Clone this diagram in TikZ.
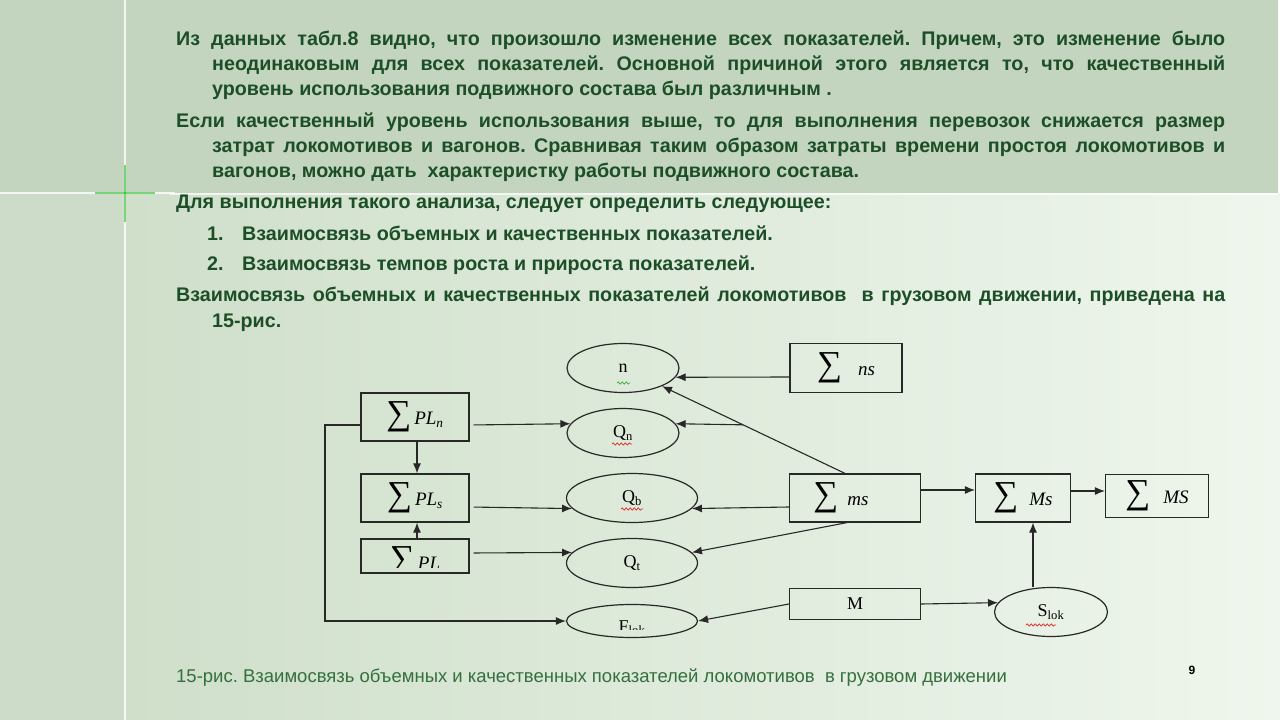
\documentclass[tikz,border=0pt]{standalone}
\usepackage{fontspec}
\setmainfont{Liberation Sans}
\newfontfamily\tnr{Liberation Serif}
\usetikzlibrary{positioning,arrows.meta,shapes.geometric,decorations.pathmorphing}
\definecolor{bandsage}{RGB}{195,213,191}
\definecolor{stripsage}{RGB}{204,220,200}
\definecolor{paleleft}{RGB}{207,223,202}
\definecolor{paleright}{RGB}{239,246,237}
\definecolor{txtgreen}{RGB}{28,78,40}
\definecolor{capgreen}{RGB}{52,112,62}
\definecolor{linedark}{RGB}{40,40,40}
\definecolor{spellred}{RGB}{225,40,40}
\definecolor{spellgreen}{RGB}{60,170,60}

\frenchspacing
\newcommand{\jline}[2]{\hbox to #1{#2}}
\newcommand{\sumof}[2][12pt]{{\tnr\fontsize{35}{35}\selectfont ∑}\hspace{#1}{\tnr\itshape\fontsize{19}{19}\selectfont #2}}

\begin{document}
\begin{tikzpicture}[x=1pt,y=-1pt,
  para/.style={anchor=base west, inner sep=0pt, font=\fontsize{19.7}{24}\selectfont\bfseries, text=txtgreen},
  box/.style={draw=linedark, line width=1.2pt, inner sep=0pt},
  oval/.style={ellipse, draw=linedark, line width=1.2pt, inner sep=0pt, font=\tnr\fontsize{18}{18}\selectfont},
  arr/.style={-{Latex[length=10pt,width=8pt]}, line width=1.1pt, linedark},
  squig/.style={decorate, decoration={snake, amplitude=1.1pt, segment length=4pt}, line width=0.7pt}
]
\useasboundingbox (0,0) rectangle (1280,720);

% slide background
\shade[left color=paleleft, right color=paleright] (123,193) rectangle (1280,720);
\fill[stripsage] (0,193) rectangle (123,720);
\fill[bandsage] (0,0) rectangle (1278,193);
\draw[white, opacity=0.7, line width=1.5pt] (170,194) -- (1278,194);
\draw[white, opacity=0.8, line width=1.2pt] (125,0) -- (125,720);
\draw[white, opacity=0.8, line width=1.2pt] (0,193) -- (175,193);
\draw[green!70!black, opacity=0.5, line width=1.5pt] (125,165) -- (125,222);
\draw[green!70!black, opacity=0.5, line width=1.5pt] (95,193) -- (155,193);

% text
\node[para] (p1) at (176,45) {\jline{1049pt}{Из данных табл.8 видно, что произошло изменение всех показателей. Причем, это изменение было}};
\node[para] (p2) at (212,70) {\jline{1013pt}{неодинаковым для всех показателей. Основной причиной этого является то, что качественный}};
\node[para] (p3) at (212,95) {уровень использования подвижного состава был различным .};
\node[para] (p4) at (176,127) {\jline{1049pt}{Если качественный уровень использования выше, то для выполнения перевозок снижается размер}};
\node[para] (p5) at (212,152) {\jline{1013pt}{затрат локомотивов и вагонов. Сравнивая таким образом затраты времени простоя локомотивов и}};
\node[para] (p6) at (212,177) {вагонов, можно дать\ \ характеристку работы подвижного состава.};
\node[para] (p7) at (176,208) {Для выполнения такого анализа, следует определить следующее:};
\node[para] (i1) at (207,240) {\makebox[35pt][l]{1.}Взаимосвязь объемных и качественных показателей.};
\node[para] (i2) at (207,270) {\makebox[35pt][l]{2.}Взаимосвязь темпов роста и прироста показателей.};
\node[para] (p8) at (176,301) {\jline{1049pt}{Взаимосвязь объемных и качественных показателей локомотивов\ \ в грузовом движении, приведена на}};
\node[para] (p9) at (212,327) {15-рис.};

\node[anchor=base west, inner sep=0pt, text=capgreen, font=\fontsize{18.5}{20}\selectfont] (cap) at (176,682)
  {15-рис. Взаимосвязь объемных и качественных показателей локомотивов\ \ в грузовом движении};
\node[anchor=base, inner sep=0pt, font=\fontsize{12}{12}\selectfont\bfseries] (pgno) at (1192,674) {9};

% diagram
\node[box, minimum width=108, minimum height=48] (PLn) at (415,417) {\sumof[3pt]{PL\textsubscript{n}}};
\node[box, minimum width=108, minimum height=48] (PLs) at (415,498) {\sumof[3pt]{PL\textsubscript{s}}};
\node[box, minimum width=108, minimum height=34] (PLt) at (415,556) {};
\begin{scope}
  \clip (362,540) rectangle (468,567);
  \node[inner sep=0pt] (PLttxt) at (415,562) {\sumof[3pt]{PL}};
\end{scope}

\node[oval, minimum width=112, minimum height=49] (n) at (623,368) {n};
\node[oval, minimum width=112, minimum height=49] (Qn) at (623,433) {Q\textsubscript{n}};
\node[oval, minimum width=131, minimum height=49] (Qb) at (632,498) {Q\textsubscript{b}};
\node[oval, minimum width=131, minimum height=49] (Qt) at (632,563) {Q\textsubscript{t}};
\node[oval, minimum width=131, minimum height=33] (F) at (632,621) {};
\begin{scope}
  \clip (590,606) rectangle (680,629);
  \node[inner sep=0pt, anchor=base, font=\tnr\fontsize{18}{18}\selectfont] (Ftxt) at (632,632) {F\textsubscript{lok}};
\end{scope}

\node[box, minimum width=112, minimum height=49] (ns) at (846,368) {\sumof[16pt]{ns}};
\node[box, minimum width=131, minimum height=48] (ms) at (855,498) {\sumof[9pt]{ms}\hspace*{28pt}};
\node[box, minimum width=131, minimum height=31, font=\tnr\fontsize{18}{18}\selectfont] (M) at (855,604) {M};
\node[box, minimum width=95, minimum height=48] (Ms) at (1023,498) {\sumof[11pt]{Ms}};
\node[box, minimum width=103, minimum height=43] (sumMS) at (1157,496) {\sumof[13pt]{MS}};
\node[oval, minimum width=113, minimum height=49] (Slok) at (1051,612) {S\textsubscript{lok}};

% spelling marks
\draw[squig, spellgreen] (617,383) -- (630,383);
\draw[squig, spellred] (612,444) -- (632,444);
\draw[squig, spellred] (621,509) -- (643,509);
\draw[squig, spellred] (1026,625) -- (1056,625);

% connectors
\draw[arr] ([xshift=2pt]PLn.south) -- ([xshift=2pt]PLs.north);
\draw[arr] ([xshift=2pt]PLt.north) -- ([xshift=2pt]PLs.south);
\draw[arr, shorten <=4pt] ([yshift=-8pt]PLn.east) -- (Qn.170);
\draw[arr, shorten <=4pt] ([yshift=-9pt]PLs.east) -- (Qb.190);
\draw[arr, shorten <=4pt] ([yshift=3pt]PLt.east) -- (Qt.170);
\coordinate (fbk) at (325,621);
\draw[arr] ([yshift=-8pt]PLn.west) -| (fbk) -- (F.west);

\draw[arr] ([yshift=-9pt]ns.west) -- (n.-10);
\draw[arr] ([xshift=-10pt]ms.north) -- (n.-25) coordinate[pos=0.557] (brn);
\draw[arr] (brn) -- (Qn.10);
\draw[arr] ([yshift=-9pt]ms.west) -- (Qb.-10);
\draw[arr] ([xshift=-8pt]ms.south) -- (Qt.10);
\draw[arr] (M.west) -- (F.east);

\draw[arr] ([yshift=8pt]ms.east) -- ([yshift=8pt]Ms.west);
\draw[arr] ([yshift=7pt]Ms.east) -- ([yshift=5pt]sumMS.west);
\draw[arr] (M.east) -- (Slok.170);
\draw[arr] ([xshift=-18pt]Slok.north) -- ([xshift=10pt]Ms.south);
\end{tikzpicture}
\end{document}
